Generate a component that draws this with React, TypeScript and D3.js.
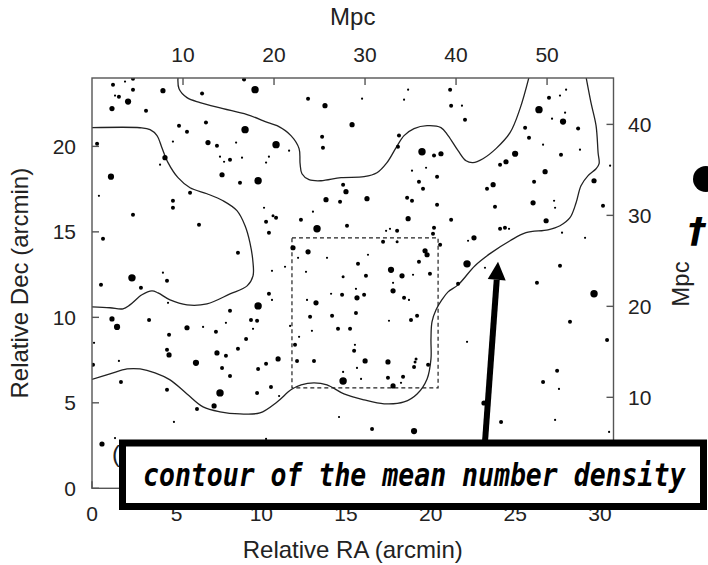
import React from 'react';
import * as d3 from 'd3';

const W = 708;
const H = 565;

// axis domains / ticks
const raDomain = [0, 30.8];
const decDomain = [0, 24];
const mpcTopDomain = [0, 57.3];
const mpcRightDomain = [0, 45.1];
const raTicks = [0, 5, 10, 15, 20, 25, 30];
const decTicks = [0, 5, 10, 15, 20];
const mpcTopTicks = [10, 20, 30, 40, 50];
const mpcRightTicks = [10, 20, 30, 40];

// galaxies: [RA arcmin, Dec arcmin, size class]
const galaxies: [number, number, number][] = [
  [1.24, 23.61, 2], [1.95, 23.79, 1], [2.42, 23.95, 2], [2.42, 23.32, 2], [1.36, 22.97, 1],
  [1.59, 22.91, 2], [2.13, 22.62, 3], [1.18, 22.21, 2.5], [3.19, 22.09, 2], [4.19, 23.26, 2.5],
  [6.5, 23.09, 2], [8.98, 23.91, 2], [9.63, 23.32, 3.5], [5.14, 21.21, 2], [5.61, 20.86, 2],
  [6.73, 21.39, 2], [9.04, 20.98, 3.5], [0.3, 20.16, 2], [4.78, 20.28, 1], [4.31, 19.34, 2.5],
  [4.02, 18.93, 1], [6.85, 20.22, 2.5], [7.38, 20.04, 2], [8.51, 20.22, 1], [7.56, 19.4, 1],
  [7.8, 19.1, 1], [8.15, 19.22, 2], [8.86, 19.34, 1], [10.28, 19.05, 1], [7.68, 18.34, 2.5],
  [8.74, 17.87, 2], [9.81, 17.99, 3.5], [1.12, 18.23, 3], [0.41, 17.11, 1], [5.79, 17.29, 2],
  [4.78, 16.82, 2], [4.78, 16.41, 2], [2.42, 16.0, 2], [6.32, 15.42, 2], [10.16, 16.41, 1],
  [10.69, 15.94, 1.5], [10.87, 15.83, 2], [10.28, 15.59, 2], [0.65, 14.6, 2], [8.62, 13.78, 2],
  [2.36, 12.31, 3.5], [4.19, 12.61, 1], [4.43, 12.14, 2], [0.53, 11.9, 2],
  [18.67, 23.32, 1], [18.43, 22.73, 1], [12.76, 22.79, 2], [15.95, 22.79, 1], [13.76, 22.38, 2.5],
  [15.36, 21.27, 2.5], [13.59, 20.57, 2], [13.64, 19.92, 2], [10.87, 20.1, 3.5], [11.64, 19.75, 1],
  [10.45, 19.4, 1], [18.13, 20.63, 2], [18.07, 19.98, 2], [19.49, 19.69, 3.5], [20.2, 19.46, 2],
  [20.61, 19.57, 2.5], [19.73, 18.75, 1], [18.9, 18.58, 1], [20.38, 18.23, 2], [19.31, 17.93, 2],
  [19.55, 17.52, 2], [14.83, 17.76, 2], [15.0, 17.35, 2.5], [13.82, 16.88, 2.5], [14.65, 16.76, 2],
  [16.24, 16.94, 2.5], [18.61, 17.0, 2], [18.9, 16.82, 2], [20.38, 16.59, 2], [18.67, 15.77, 2.5],
  [13.05, 16.18, 1], [12.34, 15.71, 2], [10.45, 14.95, 2], [15.06, 15.36, 2], [13.29, 15.18, 3.5],
  [17.37, 15.06, 1], [17.6, 15.18, 1], [18.02, 15.06, 2], [17.19, 14.42, 2], [18.02, 14.42, 1.5],
  [20.14, 14.89, 2], [20.2, 15.24, 2], [20.56, 14.24, 2], [11.87, 14.07, 2.5], [12.76, 13.83, 2.5],
  [12.17, 13.48, 1], [13.88, 13.48, 1], [16.3, 13.66, 1], [19.67, 13.89, 2.5], [19.79, 13.66, 2.5],
  [19.31, 13.25, 2], [15.71, 13.13, 2], [17.66, 12.78, 3], [10.63, 12.72, 1], [11.4, 12.96, 1],
  [12.64, 12.66, 1], [14.83, 12.37, 1.5], [16.18, 12.43, 2], [18.31, 12.43, 2.5], [18.96, 12.49, 1],
  [19.96, 12.55, 2], [17.78, 12.02, 1],
  [21.15, 23.32, 2], [21.21, 22.38, 2], [21.85, 22.38, 1], [22.03, 21.56, 2], [28.0, 23.32, 1],
  [27.64, 22.97, 1], [26.99, 22.85, 2], [26.4, 22.15, 3.5], [27.94, 21.97, 1], [27.17, 21.62, 1],
  [27.82, 21.45, 3], [28.71, 21.04, 2], [25.58, 21.09, 2], [25.81, 20.51, 2], [26.64, 20.1, 1],
  [28.82, 19.81, 1], [24.99, 19.57, 3], [24.45, 19.1, 2.5], [24.1, 18.93, 2], [27.7, 19.51, 2],
  [30.6, 18.87, 1], [26.76, 18.52, 2.5], [26.11, 17.93, 2], [29.65, 17.99, 2.5], [23.69, 17.76, 2.5],
  [23.33, 17.52, 2], [26.05, 16.7, 2.5], [27.29, 16.82, 1], [27.35, 16.41, 1], [30.18, 16.53, 2],
  [23.8, 16.47, 2], [21.21, 15.71, 2], [26.82, 15.65, 2.5], [24.1, 15.18, 2], [24.39, 15.24, 2],
  [24.63, 15.18, 1], [27.76, 14.95, 1], [29.12, 14.65, 1], [22.56, 14.65, 2.5], [22.21, 14.48, 1],
  [22.15, 13.13, 3.5], [23.21, 12.9, 1], [27.64, 13.02, 2], [26.28, 12.02, 2], [21.62, 11.96, 2],
  [2.89, 11.73, 2], [4.49, 10.85, 1], [9.81, 10.67, 3.5], [8.15, 10.38, 2], [1.18, 9.91, 2.5],
  [1.48, 9.44, 3], [3.37, 9.85, 2], [5.61, 9.39, 2.5], [6.56, 9.44, 1], [7.32, 9.15, 2],
  [7.91, 9.68, 1], [9.39, 9.85, 2], [9.75, 9.8, 2], [9.51, 9.33, 1], [4.55, 8.98, 2],
  [9.1, 8.74, 2], [0.12, 8.51, 1], [4.43, 8.1, 2], [4.55, 7.8, 2.5], [7.38, 7.92, 2.5],
  [7.91, 7.75, 2], [8.62, 8.16, 2], [1.59, 7.45, 1], [6.14, 7.34, 3], [7.68, 7.04, 2],
  [9.81, 6.98, 2], [10.28, 7.28, 2], [0.06, 7.22, 2], [8.15, 6.57, 2], [1.71, 6.22, 2],
  [4.43, 5.76, 2], [7.56, 5.58, 3.5], [9.75, 5.58, 2], [6.2, 4.64, 2], [7.21, 4.82, 2.5],
  [4.84, 3.88, 1], [0.59, 2.59, 2.5], [1.36, 2.94, 1], [10.28, 2.89, 1],
  [10.45, 11.38, 2], [10.63, 11.02, 1], [12.7, 11.02, 1], [13.23, 10.85, 2.5], [14.12, 11.38, 1],
  [14.77, 11.32, 2], [15.59, 11.67, 1], [15.65, 11.14, 2.5], [16.07, 11.32, 2], [17.78, 11.55, 2.5],
  [18.43, 11.14, 2], [18.72, 11.02, 1], [12.88, 10.03, 2], [14.18, 10.09, 2], [15.59, 10.26, 2],
  [17.54, 9.8, 1], [18.84, 9.85, 2], [19.2, 10.09, 2], [11.7, 9.5, 1], [12.99, 9.21, 1],
  [14.53, 9.33, 2], [15.24, 9.33, 2], [12.23, 8.86, 1], [11.99, 8.39, 2], [15.53, 8.39, 1],
  [15.48, 8.04, 2], [10.99, 7.57, 2.5], [12.11, 7.45, 2], [13.11, 7.45, 2], [16.13, 7.45, 2.5],
  [17.48, 7.39, 2.5], [19.14, 7.57, 1.5], [19.08, 7.39, 1.5], [19.02, 7.1, 2], [19.85, 7.22, 2],
  [15.65, 7.04, 1], [14.83, 6.81, 1], [15.89, 6.4, 1], [14.83, 6.28, 3.5], [17.48, 6.46, 2],
  [18.37, 6.52, 2], [18.25, 6.17, 1], [17.78, 5.99, 2.5], [10.57, 5.93, 2], [11.05, 5.4, 1],
  [14.59, 4.17, 1], [16.54, 3.47, 2], [19.02, 3.35, 3],
  [29.65, 11.38, 3.5], [28.23, 9.74, 2], [30.42, 8.68, 2], [22.15, 8.57, 1], [27.47, 6.87, 2],
  [26.64, 6.22, 2], [27.58, 5.81, 1], [23.15, 4.99, 2.5], [24.16, 3.88, 2], [27.35, 4.0, 1],
  [30.54, 3.3, 1],
];

const sizeRadius: Record<string, number> = { '1': 1.1, '1.5': 1.5, '2': 2.0, '2.5': 2.6, '3': 3.1, '3.5': 3.7 };

// mean-density contours [RA, Dec]
const contourUpper: [number, number][] = [
  [5.08, 24.05], [5.14, 23.37], [5.61, 22.85], [6.38, 22.56], [7.74, 22.21], [9.16, 21.86],
  [10.4, 21.39], [10.93, 21.21], [11.75, 20.63], [12.23, 19.87], [12.29, 18.99], [12.4, 18.4],
  [12.82, 18.05], [13.53, 17.99], [14.71, 18.17], [16.07, 18.23], [16.83, 18.46], [17.42, 19.05],
  [17.96, 19.93], [18.43, 20.63], [19.02, 21.04], [19.79, 21.21], [20.61, 21.1], [21.03, 20.63],
  [21.62, 19.75], [22.09, 19.16], [22.5, 19.05], [23.09, 19.28], [23.86, 19.87], [24.69, 20.8],
  [25.28, 22.21], [25.81, 24.05],
];
const contourLeft: [number, number][] = [
  [-0.1, 21.09], [2.84, 21.09], [3.43, 20.98], [3.84, 20.63], [4.13, 19.92], [4.49, 19.05],
  [5.08, 18.17], [5.79, 17.58], [6.79, 17.23], [7.74, 16.82], [8.56, 16.24], [9.04, 15.36],
  [9.33, 14.36], [9.51, 13.19], [9.51, 12.43], [9.16, 11.84], [8.15, 11.37], [6.79, 10.79],
  [5.61, 10.73], [4.61, 11.02], [3.9, 11.43], [3.54, 11.55], [2.95, 11.32], [2.24, 10.73],
  [1.83, 10.5], [1.06, 10.56], [-0.1, 10.62],
];
const contourLower: [number, number][] = [
  [-0.1, 6.34], [1.06, 6.69], [2.07, 6.98], [2.84, 6.98], [3.72, 6.75], [4.61, 6.34],
  [5.61, 5.52], [6.56, 4.76], [7.56, 4.47], [8.74, 4.35], [9.92, 4.41], [10.93, 5.05],
  [11.75, 5.76], [12.35, 6.05], [13.11, 6.17], [13.88, 6.05], [14.88, 5.52], [16.07, 5.17],
  [17.25, 4.94], [18.43, 5.05], [19.2, 5.52], [19.79, 6.4], [20.02, 7.57], [20.02, 8.74],
  [20.08, 9.74], [20.32, 10.44], [20.67, 11.03], [21.03, 11.49], [21.62, 11.9], [22.62, 13.02],
  [23.57, 13.77], [24.69, 14.48], [25.63, 14.95], [26.93, 15.12], [27.64, 15.36], [28.23, 15.83],
  [28.59, 16.7], [28.88, 17.7], [29.3, 18.29], [29.77, 18.69], [29.95, 18.99], [29.89, 19.63],
  [29.77, 21.21], [29.47, 22.56], [29.18, 24.05],
];

// dashed sub-region
const boxRA = [11.81, 20.44];
const boxDec = [5.87, 14.65];

// annotation arrow (data coords)
const arrowStart: [number, number] = [23.21, 2.7];
const arrowTip: [number, number] = [23.98, 13.25];
const annotationText = 'contour of the mean number density';

const plot = { left: 92, right: 613.5, top: 78, bottom: 488.3 };

export default function App() {
  const x = d3.scaleLinear().domain(raDomain).range([plot.left, plot.right]);
  const y = d3.scaleLinear().domain(decDomain).range([plot.bottom, plot.top]);
  const xTop = d3.scaleLinear().domain(mpcTopDomain).range([plot.left, plot.right]);
  const yRight = d3.scaleLinear().domain(mpcRightDomain).range([plot.bottom, plot.top]);

  const line = d3
    .line<[number, number]>()
    .x((d) => x(d[0]))
    .y((d) => y(d[1]))
    .curve(d3.curveCatmullRom.alpha(0.5));

  const axisColor = '#555';
  const tickLen = 7;
  const font = '"Liberation Sans", Arial, Helvetica, sans-serif';
  const tickFs = 21;
  const titleFs = 24;

  // arrow geometry in pixels
  const ax0 = x(arrowStart[0]);
  const ay0 = y(arrowStart[1]);
  const ax1 = x(arrowTip[0]);
  const ay1 = y(arrowTip[1]);
  const len = Math.hypot(ax1 - ax0, ay1 - ay0);
  const ux = (ax1 - ax0) / len;
  const uy = (ay1 - ay0) / len;
  const headLen = 18;
  const headHalf = 9;
  const bx = ax1 - ux * headLen;
  const by = ay1 - uy * headLen;
  const head = [
    [ax1, ay1],
    [bx - uy * headHalf, by + ux * headHalf],
    [bx + uy * headHalf, by - ux * headHalf],
  ]
    .map((p) => p.join(','))
    .join(' ');

  return (
    <svg
      width={W}
      height={H}
      viewBox={`0 0 ${W} ${H}`}
      style={{ position: 'absolute', left: 0, top: 0, background: '#fff' }}
    >
      <defs>
        <clipPath id="plotClip">
          <rect x={plot.left} y={plot.top} width={plot.right - plot.left} height={plot.bottom - plot.top} />
        </clipPath>
      </defs>
      <rect x={0} y={0} width={W} height={H} fill="#fff" />

      {/* contours */}
      <g clipPath="url(#plotClip)" fill="none" stroke="#222" strokeWidth={1.3}>
        <path d={line(contourUpper) || ''} />
        <path d={line(contourLeft) || ''} />
        <path d={line(contourLower) || ''} />
      </g>

      {/* dashed sub-region */}
      <rect
        x={x(boxRA[0])}
        y={y(boxDec[1])}
        width={x(boxRA[1]) - x(boxRA[0])}
        height={y(boxDec[0]) - y(boxDec[1])}
        fill="none"
        stroke="#222"
        strokeWidth={1.2}
        strokeDasharray="4,3"
      />

      {/* galaxies */}
      <g fill="#000" clipPath="url(#plotClip)">
        {galaxies.map((g, i) => (
          <circle key={i} cx={x(g[0])} cy={y(g[1])} r={sizeRadius[String(g[2])]} />
        ))}
      </g>

      {/* frame */}
      <rect
        x={plot.left}
        y={plot.top}
        width={plot.right - plot.left}
        height={plot.bottom - plot.top}
        fill="none"
        stroke={axisColor}
        strokeWidth={1.4}
      />

      {/* ticks */}
      <g stroke={axisColor} strokeWidth={1.4}>
        {raTicks.map((t) => (
          <line key={'b' + t} x1={x(t)} x2={x(t)} y1={plot.bottom} y2={plot.bottom - tickLen} />
        ))}
        {decTicks.map((t) => (
          <line key={'l' + t} x1={plot.left} x2={plot.left + tickLen} y1={y(t)} y2={y(t)} />
        ))}
        {mpcTopTicks.map((t) => (
          <line key={'t' + t} x1={xTop(t)} x2={xTop(t)} y1={plot.top} y2={plot.top + tickLen} />
        ))}
        {mpcRightTicks.map((t) => (
          <line key={'r' + t} x1={plot.right} x2={plot.right - tickLen} y1={yRight(t)} y2={yRight(t)} />
        ))}
      </g>

      {/* tick labels */}
      <g fontFamily={font} fontSize={tickFs} fill="#222">
        {raTicks.map((t) => (
          <text key={'bl' + t} x={x(t)} y={521} textAnchor="middle">
            {t}
          </text>
        ))}
        {decTicks.map((t) => (
          <text key={'ll' + t} x={76} y={y(t) + 7.5} textAnchor="end">
            {t}
          </text>
        ))}
        {mpcTopTicks.map((t) => (
          <text key={'tl' + t} x={xTop(t)} y={62} textAnchor="middle">
            {t}
          </text>
        ))}
        {mpcRightTicks.map((t) => (
          <text key={'rl' + t} x={628} y={yRight(t) + 7.5} textAnchor="start">
            {t}
          </text>
        ))}
      </g>

      {/* axis titles */}
      <g fontFamily={font} fontSize={titleFs} fill="#222">
        <text x={(plot.left + plot.right) / 2} y={558} textAnchor="middle">
          Relative RA (arcmin)
        </text>
        <text x={(plot.left + plot.right) / 2} y={25} textAnchor="middle">
          Mpc
        </text>
        <text transform={`translate(28, ${(plot.top + plot.bottom) / 2}) rotate(-90)`} textAnchor="middle">
          Relative Dec (arcmin)
        </text>
        <text transform={`translate(689, 284) rotate(-90)`} textAnchor="middle">
          Mpc
        </text>
        <text x={112} y={462}>
          (a)
        </text>
      </g>

      {/* cut-off legend markers */}
      <circle cx={706} cy={179} r={13} fill="#000" />
      <text
        x={688}
        y={243}
        fontFamily='"DejaVu Sans", sans-serif'
        fontWeight="bold"
        fontStyle="italic"
        fontSize={36}
        fill="#000"
      >
        †
      </text>

      {/* annotation */}
      <line x1={ax0} y1={ay0} x2={bx} y2={by} stroke="#000" strokeWidth={6} />
      <polygon points={head} fill="#000" />
      <rect x={122.5} y={443} width={581} height={63.5} fill="#fff" stroke="#000" strokeWidth={7} />
      <text
        transform="translate(143, 486) scale(1, 1.2)"
        x={0}
        y={0}
        fontFamily='"DejaVu Sans Mono", monospace'
        fontWeight="bold"
        fontStyle="italic"
        fontSize={26.5}
        fill="#000"
      >
        {annotationText}
      </text>
    </svg>
  );
}
